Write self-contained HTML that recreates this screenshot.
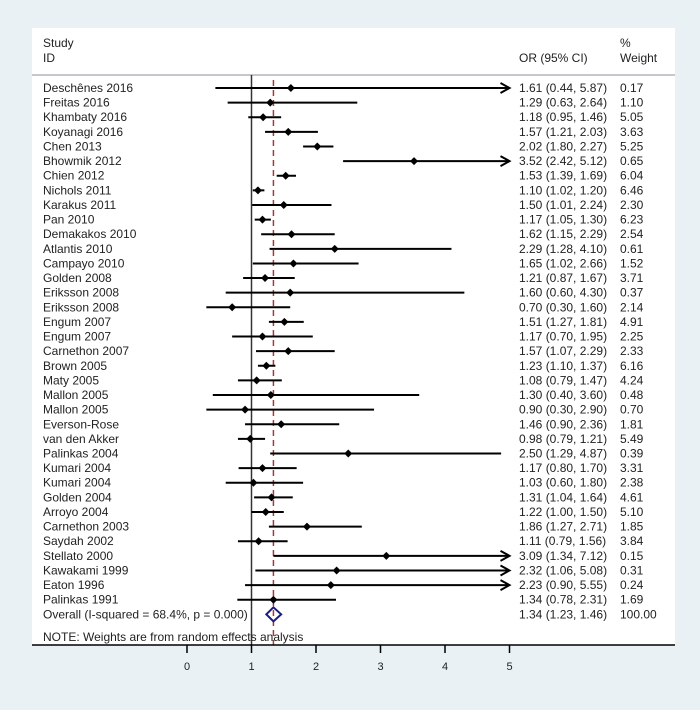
<!DOCTYPE html>
<html><head><meta charset="utf-8"><style>
html,body{margin:0;padding:0;background:#e9f1f5;}
svg{display:block;font-family:"Liberation Sans",Arial,sans-serif;}
</style></head><body>
<svg id="chart" width="700" height="710" viewBox="0 0 700 710">
<rect x="0" y="0" width="700" height="710" fill="#e9f1f5"/>
<rect x="32" y="28" width="643" height="617" fill="#ffffff"/>
<text x="43" y="47" font-size="12" fill="#222">Study</text>
<text x="43" y="62" font-size="12" fill="#222">ID</text>
<text x="519" y="62" font-size="12" fill="#222">OR (95% CI)</text>
<text x="620" y="47" font-size="12" fill="#222">%</text>
<text x="620" y="62" font-size="12" fill="#222">Weight</text>
<line x1="32" y1="75" x2="675" y2="75" stroke="#c6c6cc" stroke-width="2"/>
<g id="marks"></g>
</svg>
<script>
const studies=["Deschênes 2016","Freitas 2016","Khambaty 2016","Koyanagi 2016","Chen 2013","Bhowmik 2012","Chien 2012","Nichols 2011","Karakus 2011","Pan 2010","Demakakos 2010","Atlantis 2010","Campayo 2010","Golden 2008","Eriksson 2008","Eriksson 2008","Engum 2007","Engum 2007","Carnethon 2007","Brown 2005","Maty 2005","Mallon 2005","Mallon 2005","Everson-Rose","van den Akker","Palinkas 2004","Kumari 2004","Kumari 2004","Golden 2004","Arroyo 2004","Carnethon 2003","Saydah 2002","Stellato 2000","Kawakami 1999","Eaton 1996","Palinkas 1991"];
const orValues=[1.61,1.29,1.18,1.57,2.02,3.52,1.53,1.10,1.50,1.17,1.62,2.29,1.65,1.21,1.60,0.70,1.51,1.17,1.57,1.23,1.08,1.30,0.90,1.46,0.98,2.50,1.17,1.03,1.31,1.22,1.86,1.11,3.09,2.32,2.23,1.34];
const lowerCI=[0.44,0.63,0.95,1.21,1.80,2.42,1.39,1.02,1.01,1.05,1.15,1.28,1.02,0.87,0.60,0.30,1.27,0.70,1.07,1.10,0.79,0.40,0.30,0.90,0.79,1.29,0.80,0.60,1.04,1.00,1.27,0.79,1.34,1.06,0.90,0.78];
const upperCI=[5.87,2.64,1.46,2.03,2.27,5.12,1.69,1.20,2.24,1.30,2.29,4.10,2.66,1.67,4.30,1.60,1.81,1.95,2.29,1.37,1.47,3.60,2.90,2.36,1.21,4.87,1.70,1.80,1.64,1.50,2.71,1.56,7.12,5.08,5.55,2.31];
const weights=["0.17","1.10","5.05","3.63","5.25","0.65","6.04","6.46","2.30","6.23","2.54","0.61","1.52","3.71","0.37","2.14","4.91","2.25","2.33","6.16","4.24","0.48","0.70","1.81","5.49","0.39","3.31","2.38","4.61","5.10","1.85","3.84","0.15","0.31","0.24","1.69"];
const overall=[1.34,1.23,1.46];
const overallWeight="100.00";
const ticks=[0,1,2,3,4,5];

const NS="http://www.w3.org/2000/svg";
const g=document.getElementById('marks');
const xS=v=>187+64.5*v;
const yS=i=>88+14.62*i;
const XMAX=5;
function mk(tag,attrs){const e=document.createElementNS(NS,tag);for(const k in attrs)e.setAttribute(k,attrs[k]);g.appendChild(e);return e;}
function f2(v){return v.toFixed(2);}

// reference line at 1
let l=mk('line',{x1:xS(1),y1:75,x2:xS(1),y2:645,stroke:'#333',"stroke-width":1.5});


// overall dashed line
l=mk('line',{x1:xS(overall[0]),y1:80,x2:xS(overall[0]),y2:645,stroke:'#a33a3a',"stroke-width":1.5,"stroke-dasharray":"6,4"});



studies.forEach((s,i)=>{
  const y=yS(i);
  let t=mk('text',{x:43,y:y+4,"font-size":12,fill:'#222'});t.textContent=s;
  
  
  const hi=Math.min(upperCI[i],XMAX);
  const ln=mk('line',{x1:xS(lowerCI[i]),y1:y,x2:xS(hi)-(upperCI[i]>XMAX?2:0),y2:y,stroke:'#000',"stroke-width":2});
  
  
  if(upperCI[i]>XMAX){
    const ax=xS(XMAX);
    const ar=mk('path',{d:`M${ax-9},${y-5} L${ax},${y} L${ax-9},${y+5}`,fill:'none',stroke:'#000',"stroke-width":2});
    
    
  }
  const cx=xS(orValues[i]);
  const d=mk('path',{d:`M${cx-4},${y} L${cx},${y-4} L${cx+4},${y} L${cx},${y+4}Z`,fill:'#000'});
  
  
  t=mk('text',{x:519,y:y+4,"font-size":12,fill:'#222'});
  t.textContent=`${f2(orValues[i])} (${f2(lowerCI[i])}, ${f2(upperCI[i])})`;
  
  
  t=mk('text',{x:620,y:y+4,"font-size":12,fill:'#222'});t.textContent=weights[i];
  
  
});
// overall row
const oy=yS(studies.length);
let t=mk('text',{x:43,y:oy+4,"font-size":12,fill:'#222'});t.textContent="Overall  (I-squared = 68.4%, p = 0.000)";


const od=mk('path',{d:`M${xS(overall[1])},${oy} L${xS(overall[0])},${oy-7} L${xS(overall[2])},${oy} L${xS(overall[0])},${oy+7}Z`,fill:'none',stroke:'#1c1c80',"stroke-width":2});


t=mk('text',{x:519,y:oy+4,"font-size":12,fill:'#222'});t.textContent=`${f2(overall[0])} (${f2(overall[1])}, ${f2(overall[2])})`;


t=mk('text',{x:620,y:oy+4,"font-size":12,fill:'#222'});t.textContent=overallWeight;


t=mk('text',{x:43,y:641,"font-size":12,fill:'#222'});t.textContent="NOTE: Weights are from random effects analysis";


// axis
l=mk('line',{x1:32,y1:645,x2:675,y2:645,stroke:'#000',"stroke-width":1.5});


ticks.forEach(v=>{
  const tk=mk('line',{x1:xS(v),y1:645,x2:xS(v),y2:653,stroke:'#000',"stroke-width":1.5});
  
  
  const tl=mk('text',{x:xS(v),y:670,"font-size":11,fill:'#222',"text-anchor":'middle'});tl.textContent=v;
  
  
});
</script>
</body></html>
